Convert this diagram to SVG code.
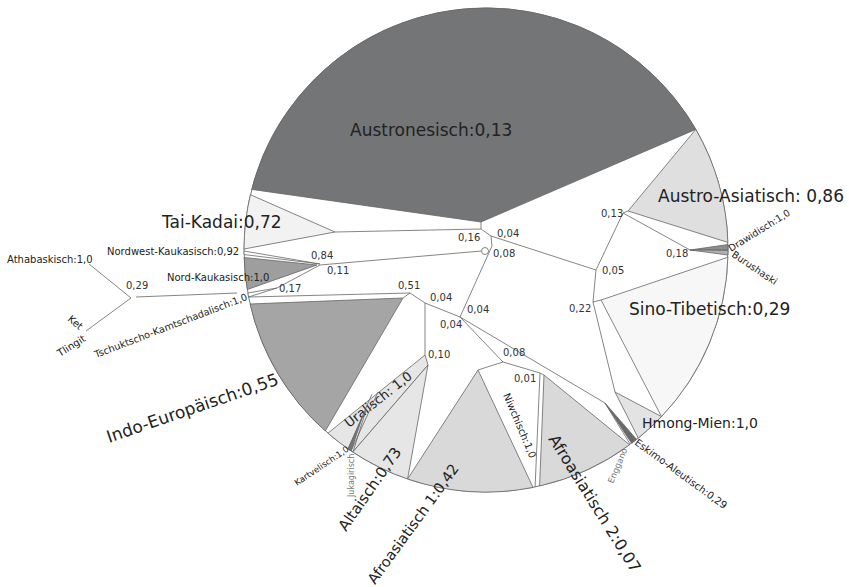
<svg xmlns="http://www.w3.org/2000/svg" width="849" height="587" viewBox="0 0 849 587">
<style>
text{font-family:"DejaVu Sans","Liberation Sans",sans-serif;fill:#222}
.big{font-size:17px}
.med{font-size:14px}
.sm{font-size:10px}
.num{font-size:10px;fill:#333}
.tiny{font-size:8.5px}
.faint{fill:#777}
.ln{fill:none;stroke:#666;stroke-width:0.8}
.w{stroke:#666;stroke-width:0.8}
</style>
<rect width="849" height="587" fill="#fff"/>
<circle cx="486" cy="250" r="242" fill="#fff" stroke="#777" stroke-width="1"/>

<g id="austronesisch">
<path class="w" fill="#747577" d="M251.7 189.4 A242 242 0 0 1 695.8 129.4 L481 222 Z"/>
<text class="big" x="350" y="136">Austronesisch:0,13</text>
</g>
<g id="tai-kadai">
<path class="w" fill="#f2f2f2" d="M250.4 194.7 L335 232 L244 249 A242 242 0 0 1 250.4 194.7 Z"/>
<text class="big" x="162" y="228">Tai-Kadai:0,72</text>
</g>
<g id="nordwest-kaukasisch">
<path class="w" fill="#fff" d="M244 251 L320 264 L244 254.5 Z"/>
<text class="sm" x="107" y="255">Nordwest-Kaukasisch:0,92</text>
</g>
<g id="nord-kaukasisch">
<path class="w" fill="#9e9e9e" d="M244.1 257.5 L317 265 L247.3 289.5 A242 242 0 0 1 244.1 257.5 Z"/>
<text class="sm" x="167" y="281">Nord-Kaukasisch:1,0</text>
</g>
<g id="tschuktscho-kamtschadalisch">
<path class="w" fill="#fff" d="M247.9 293 L277 288 L248.6 297 Z"/>
<text class="sm" style="font-size:9.7px" transform="translate(96,358) rotate(-21)">Tschuktscho-Kamtschadalisch:1,0</text>
</g>
<g id="indo-europaeisch">
<path class="w" fill="#a5a5a5" d="M250.1 304 L403 298 L325.3 431 A242 242 0 0 1 250.1 304 Z"/>
<text class="big" transform="translate(109,443) rotate(-19)">Indo-Europäisch:0,55</text>
</g>
<g id="uralisch">
<path class="w" fill="#e6e6e6" d="M327.9 433.2 L425 355 L428 365 L352.8 452 A242 242 0 0 1 327.9 433.2 Z"/>
<text style="font-size:13px" transform="translate(349,428) rotate(-38)">Uralisch: 1,0</text>
</g>
<g id="kartvelisch">
<path class="w" fill="#777" d="M348 449 L362 418 L351 451 Z"/>
<path class="ln" d="M348 449 L372 394 M351 451 L378 392 M353 452 L366 410"/>
<text class="tiny" transform="translate(297,486) rotate(-34)">Kartvelisch:1,0</text>
</g>
<g id="jukagirisch">
<text class="faint" style="font-size:8px" transform="translate(354,497) rotate(-90)">Jukagirisch</text>
</g>
<g id="altaisch">
<path class="w" fill="#e6e6e6" d="M428 365 L407.6 479 A242 242 0 0 1 352.8 452 Z"/>
<text style="font-size:15px" transform="translate(346,532) rotate(-55)">Altaisch:0,73</text>
</g>
<g id="afroasiatisch-1">
<path class="w" fill="#d9d9d9" d="M478 370 L533 487.4 A242 242 0 0 1 407.6 479 Z"/>
<text style="font-size:14.5px" transform="translate(375,585) rotate(-54)">Afroasiatisch 1:0,42</text>
</g>
<g id="niwchisch">
<text class="sm" transform="translate(503,395) rotate(67)">Niwchisch:1,0</text>
</g>
<g id="afroasiatisch-2">
<path class="w" fill="#d9d9d9" d="M544 375 L629.6 444.8 A242 242 0 0 1 539.6 486 Z"/>
<text style="font-size:16px" transform="translate(548,439) rotate(58)">Afroasiatisch 2:0,07</text>
</g>
<g id="eskimo-aleutisch">
<path class="w" fill="#6a6a6a" d="M605 403 L636.6 439.4 L631.6 443.3 Z"/>
<text class="sm" transform="translate(634,444) rotate(36)">Eskimo-Aleutisch:0,29</text>
</g>
<g id="enggano">
<text class="faint tiny" transform="translate(613,484) rotate(-67)">Enggano</text>
</g>
<g id="hmong-mien">
<path class="w" fill="#e3e3e3" d="M615 392 L661.5 416.6 A242 242 0 0 1 638.3 438.1 Z"/>
<text class="med" x="642" y="428">Hmong-Mien:1,0</text>
</g>
<g id="sino-tibetisch">
<path class="w" fill="#f7f7f7" d="M601 300 L727.9 257.2 A242 242 0 0 1 661.5 416.6 Z"/>
<text class="big" x="629" y="315">Sino-Tibetisch:0,29</text>
</g>
<g id="drawidisch">
<path class="w" fill="#8c8c8c" d="M690 250 L727.9 244.5 L728 250 Z"/>
<text style="font-size:9.5px" transform="translate(731,252) rotate(-32)">Drawidisch:1,0</text>
</g>
<g id="burushaski">
<path class="w" fill="#b0b0b0" d="M690 250 L728 250.5 L727.9 255 Z"/>
<text style="font-size:9.5px" transform="translate(731,256) rotate(34)">Burushaski</text>
</g>
<g id="austro-asiatisch">
<path class="w" fill="#dfdfdf" d="M628 211 L695.8 129.4 A242 242 0 0 1 727.9 242.4 Z"/>
<text class="big" x="658" y="202">Austro-Asiatisch: 0,86</text>
</g>
<g id="athabaskisch">
<text class="sm" x="7" y="263">Athabaskisch:1,0</text>
</g>
<g id="ket">
<text class="sm" transform="translate(67,320) rotate(40)">Ket</text>
</g>
<g id="tlingit">
<text class="sm" transform="translate(60,357) rotate(-32)">Tlingit</text>
</g>

<g id="connectors">
<path class="ln" d="M89 264 L131 298 L86 331 M136 297 L237 293"/>
<path class="ln" d="M481 222 L481 229 L491 236 L596 270 M335 232 L481 229 M491 236 L492 246 L460 317"/>
<path class="ln" d="M320 265 L481.5 251 M277 288 L320 265 M248.6 297 L410 293 L403 298 M410 293 L425 303 L460 317 M425 303 L425 355"/>
<path class="ln" d="M460 317 L503 362 L540 373 L544 375 M478 370 L503 362 M540 373 L535.1 487 M460 317 L605 403 L630 444"/>
<path class="ln" d="M596 270 L593 302 L601 300 M596 270 L623 213 L628 211 M623 213 L690 250 M593 302 L615 392"/>
<circle cx="485" cy="251" r="3.5" fill="#fff" stroke="#666" stroke-width="0.8"/>
</g>
<g id="edge-labels">
<text class="num" x="126" y="289">0,29</text>
<text class="num" x="458" y="241">0,16</text>
<text class="num" x="497" y="237">0,04</text>
<text class="num" x="493" y="257">0,08</text>
<text class="num" x="311" y="259">0,84</text>
<text class="num" x="327" y="274">0,11</text>
<text class="num" x="279" y="292">0,17</text>
<text class="num" x="398" y="289">0,51</text>
<text class="num" x="430" y="301">0,04</text>
<text class="num" x="467" y="313">0,04</text>
<text class="num" x="440" y="328">0,04</text>
<text class="num" x="428" y="358">0,10</text>
<text class="num" x="503" y="356">0,08</text>
<text class="num" x="514" y="382">0,01</text>
<text class="num" x="601" y="217">0,13</text>
<text class="num" x="602" y="274">0,05</text>
<text class="num" x="569" y="312">0,22</text>
<text class="num" x="666" y="257">0,18</text>
</g>
</svg>
